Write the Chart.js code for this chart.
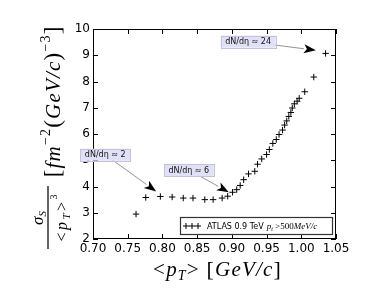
<!DOCTYPE html>
<html>
<head>
<meta charset="utf-8">
<script src="https://cdn.jsdelivr.net/npm/chart.js@4.4.1/dist/chart.umd.min.js"></script>
<style>
  html, body { margin: 0; padding: 0; background: #fff; }
  #wrap { width: 374px; height: 299px; }
</style>
</head>
<body>
<div id="wrap"><canvas id="chart"></canvas></div>
<script>
// ATLAS 0.9 TeV, pT > 500 MeV/c
const pT = [0.762, 0.776, 0.797, 0.814, 0.830, 0.844, 0.861, 0.873, 0.886, 0.894,
            0.901, 0.907, 0.912, 0.917, 0.924, 0.933, 0.937, 0.943, 0.950, 0.954,
            0.959, 0.964, 0.968, 0.973, 0.976, 0.979, 0.982, 0.985, 0.987, 0.990,
            0.994, 0.997, 1.005, 1.018, 1.035];
const sigma = [2.95, 3.58, 3.62, 3.60, 3.56, 3.56, 3.50, 3.50, 3.56, 3.63,
               3.78, 3.88, 4.04, 4.26, 4.48, 4.58, 4.85, 5.05, 5.22, 5.41,
               5.64, 5.79, 5.98, 6.15, 6.34, 6.50, 6.67, 6.82, 6.99, 7.15,
               7.25, 7.36, 7.61, 8.17, 9.07];

// annotations (data coordinates)
const noteText = ["dN/dη ≈ 2", "dN/dη ≈ 6", "dN/dη ≈ 24"];
const noteTipX = [0.791, 0.8956, 1.021];
const noteTipY = [3.81, 3.78, 9.19];
const noteBoxX = [0.7176, 0.838, 0.9234];
const noteBoxY = [5.21, 4.63, 9.52];

const xMin = 0.70, xMax = 1.05, xStep = 0.05;
const yMin = 2, yMax = 10, yStep = 1;

const SANS = "'DejaVu Sans', sans-serif";
const SERIF = "'Liberation Serif', serif";
const IT = "italic %px " + SERIF, UP = "%px " + SERIF;

// text runs, each {t, f (font with % for size), s (size), dy}
function runsWidth(ctx, runs, sp) {
  let w = 0;
  runs.forEach(r => {
    ctx.font = r.f.replace('%', r.s);
    w += ctx.measureText(r.t).width + sp * r.t.length;
  });
  return w;
}
function drawRuns(ctx, runs, x, y, sp) {
  runs.forEach(r => {
    ctx.font = r.f.replace('%', r.s);
    ctx.fillText(r.t, x, y + (r.dy || 0));
    x += ctx.measureText(r.t).width + sp * r.t.length;
  });
}
// split runs into single characters so a small spacing can stretch them
function explode(runs) {
  const out = [];
  runs.forEach(r => [...r.t].forEach(c => out.push({ t: c, f: r.f, s: r.s, dy: r.dy })));
  return out;
}
// centre the runs in [x, x+width], adding at most maxSp px between characters
function drawSpread(ctx, runs, x, y, width, maxSp) {
  const rs = explode(runs);
  const nat = runsWidth(ctx, rs, 0);
  const sp = Math.min(maxSp, Math.max(0, (width - nat) / rs.length));
  const w = nat + sp * rs.length;
  drawRuns(ctx, rs, x + (width - w) / 2 + sp / 2, y, sp);
}

const decor = {
  id: 'decor',
  afterDraw(chart) {
    const ctx = chart.ctx, a = chart.chartArea;
    const xs = chart.scales.x, ys = chart.scales.y;
    ctx.save();
    // frame
    ctx.strokeStyle = '#000'; ctx.lineWidth = 1;
    ctx.strokeRect(a.left + 0.5, a.top + 0.5, a.right - a.left - 1, a.bottom - a.top - 1);
    // inward ticks on all sides
    ctx.beginPath();
    xs.ticks.forEach(t => {
      const px = Math.round(xs.getPixelForValue(t.value)) + 0.5;
      ctx.moveTo(px, a.bottom); ctx.lineTo(px, a.bottom - 5);
      ctx.moveTo(px, a.top); ctx.lineTo(px, a.top + 5);
    });
    ys.ticks.forEach(t => {
      const py = Math.round(ys.getPixelForValue(t.value)) + 0.5;
      ctx.moveTo(a.left, py); ctx.lineTo(a.left + 5, py);
      ctx.moveTo(a.right, py); ctx.lineTo(a.right - 5, py);
    });
    ctx.stroke();

    // legend
    const lx1 = a.right - 3, ly2 = a.bottom - 4, lx0 = 180, ly1 = ly2 - 18;
    ctx.fillStyle = '#fff'; ctx.fillRect(lx0, ly1, lx1 - lx0, ly2 - ly1);
    ctx.strokeStyle = '#333'; ctx.lineWidth = 1.2;
    ctx.strokeRect(lx0 + 0.5, ly1 + 0.5, lx1 - lx0 - 1, ly2 - ly1 - 1);
    const my = (ly1 + ly2) / 2;
    ctx.strokeStyle = '#000'; ctx.lineWidth = 1;
    ctx.beginPath();
    [186, 192, 198].forEach(cx => {
      ctx.moveTo(cx - 3, my); ctx.lineTo(cx + 3, my);
      ctx.moveTo(cx, my - 3); ctx.lineTo(cx, my + 3);
    });
    ctx.stroke();
    ctx.fillStyle = '#000'; ctx.textBaseline = 'alphabetic'; ctx.textAlign = 'left';
    const label = chart.data.datasets[0].label;
    ctx.font = "8px " + SANS;
    ctx.fillText(label, 207, my + 3);
    const lw = ctx.measureText(label).width;
    drawRuns(ctx, [
      { t: 'p', f: IT, s: 9 }, { t: 't', f: IT, s: 6, dy: 1.5 },
      { t: ' >500', f: UP, s: 9 }, { t: 'MeV/c', f: IT, s: 9 }
    ], 207 + lw + 3, my + 3, 0);

    // annotations
    noteText.forEach((txt, i) => {
      const bx = xs.getPixelForValue(noteBoxX[i]), by = ys.getPixelForValue(noteBoxY[i]);
      const tx = xs.getPixelForValue(noteTipX[i]), ty = ys.getPixelForValue(noteTipY[i]);
      const ang = Math.atan2(ty - by, tx - bx);
      const hl = 12, hw = 4.5;
      const ex = tx - hl * Math.cos(ang), ey = ty - hl * Math.sin(ang);
      ctx.strokeStyle = '#888'; ctx.lineWidth = 0.9;
      ctx.beginPath(); ctx.moveTo(bx, by); ctx.lineTo(ex, ey); ctx.stroke();
      ctx.fillStyle = '#000';
      ctx.beginPath();
      ctx.moveTo(tx, ty);
      ctx.lineTo(ex + hw * Math.sin(ang), ey - hw * Math.cos(ang));
      ctx.lineTo(ex + 3 * Math.cos(ang), ey + 3 * Math.sin(ang));
      ctx.lineTo(ex - hw * Math.sin(ang), ey + hw * Math.cos(ang));
      ctx.closePath(); ctx.fill();
      // box
      ctx.font = "8px " + SANS;
      const w = ctx.measureText(txt).width + 9, h = 12;
      ctx.fillStyle = '#e0e0f6'; ctx.strokeStyle = '#c2c2dc'; ctx.lineWidth = 1;
      ctx.fillRect(bx - w / 2, by - h / 2, w, h);
      ctx.strokeRect(Math.round(bx - w / 2) + 0.5, Math.round(by - h / 2) + 0.5, Math.round(w), h);
      ctx.fillStyle = '#111'; ctx.textAlign = 'center'; ctx.textBaseline = 'middle';
      ctx.fillText(txt, bx, by + 0.5);
      ctx.textAlign = 'left'; ctx.textBaseline = 'alphabetic';
    });

    // x axis title  <p_T> [GeV/c]
    ctx.fillStyle = '#000';
    drawSpread(ctx, [
      { t: '<', f: UP, s: 21 }, { t: 'p', f: IT, s: 21 }, { t: 'T', f: IT, s: 14, dy: 4 },
      { t: '>', f: UP, s: 21 }, { t: ' [', f: UP, s: 22 }, { t: 'GeV/c', f: IT, s: 21 },
      { t: ']', f: UP, s: 22 }
    ], 152, 276, 130, 1.2);

    // y axis title, rotated (u runs upward, v runs rightward)
    ctx.translate(0, 249);
    ctx.rotate(-Math.PI / 2);
    const num = [{ t: 'σ', f: IT, s: 17 }, { t: 'S', f: IT, s: 11, dy: 3 }];
    const nw = runsWidth(ctx, num, 0);
    drawRuns(ctx, num, 31 - nw / 2, 43, 0);
    drawSpread(ctx, [
      { t: '<', f: UP, s: 16 }, { t: 'p', f: IT, s: 16 }, { t: 'T', f: IT, s: 11, dy: 3 },
      { t: '>', f: UP, s: 16 }, { t: '3', f: UP, s: 10, dy: -10 }
    ], 0, 67, 62, 2.5);
    ctx.strokeStyle = '#222'; ctx.lineWidth = 1.4;
    ctx.beginPath(); ctx.moveTo(0, 48); ctx.lineTo(63, 48); ctx.stroke();
    drawSpread(ctx, [
      { t: '[', f: UP, s: 23 }, { t: 'fm', f: IT, s: 21 }, { t: '−2', f: UP, s: 14, dy: -10 },
      { t: '(', f: UP, s: 23 }, { t: 'GeV/c', f: IT, s: 21 }, { t: ')', f: UP, s: 23 },
      { t: '−3', f: UP, s: 14, dy: -10 }, { t: ']', f: UP, s: 23 }
    ], 66, 60, 162, 1.2);
    ctx.restore();
  }
};

new Chart(document.getElementById('chart'), {
  type: 'scatter',
  data: {
    datasets: [{
      label: 'ATLAS 0.9 TeV',
      data: pT.map((x, i) => ({ x: x, y: sigma[i] })),
      pointStyle: 'cross',
      pointRadius: 3.2,
      borderColor: '#000',
      backgroundColor: '#000',
      borderWidth: 1,
      pointHoverRadius: 3.2
    }]
  },
  options: {
    responsive: true,
    maintainAspectRatio: false,
    animation: false,
    layout: { padding: { top: 29, right: 38, left: 0, bottom: 0 } },
    plugins: { legend: { display: false }, tooltip: { enabled: false } },
    scales: {
      x: {
        type: 'linear', min: xMin, max: xMax,
        grid: { display: false, drawTicks: false },
        border: { display: false },
        ticks: {
          stepSize: xStep, padding: 3, color: '#000', maxRotation: 0,
          font: { family: 'DejaVu Sans', size: 12 },
          callback: v => v.toFixed(2)
        },
        afterFit: s => { s.height = 60; }
      },
      y: {
        min: yMin, max: yMax,
        grid: { display: false, drawTicks: false },
        border: { display: false },
        ticks: {
          stepSize: yStep, padding: 3, color: '#000',
          font: { family: 'DejaVu Sans', size: 12 }
        },
        afterFit: s => { s.width = 93; }
      }
    }
  },
  plugins: [decor]
});
</script>
</body>
</html>
